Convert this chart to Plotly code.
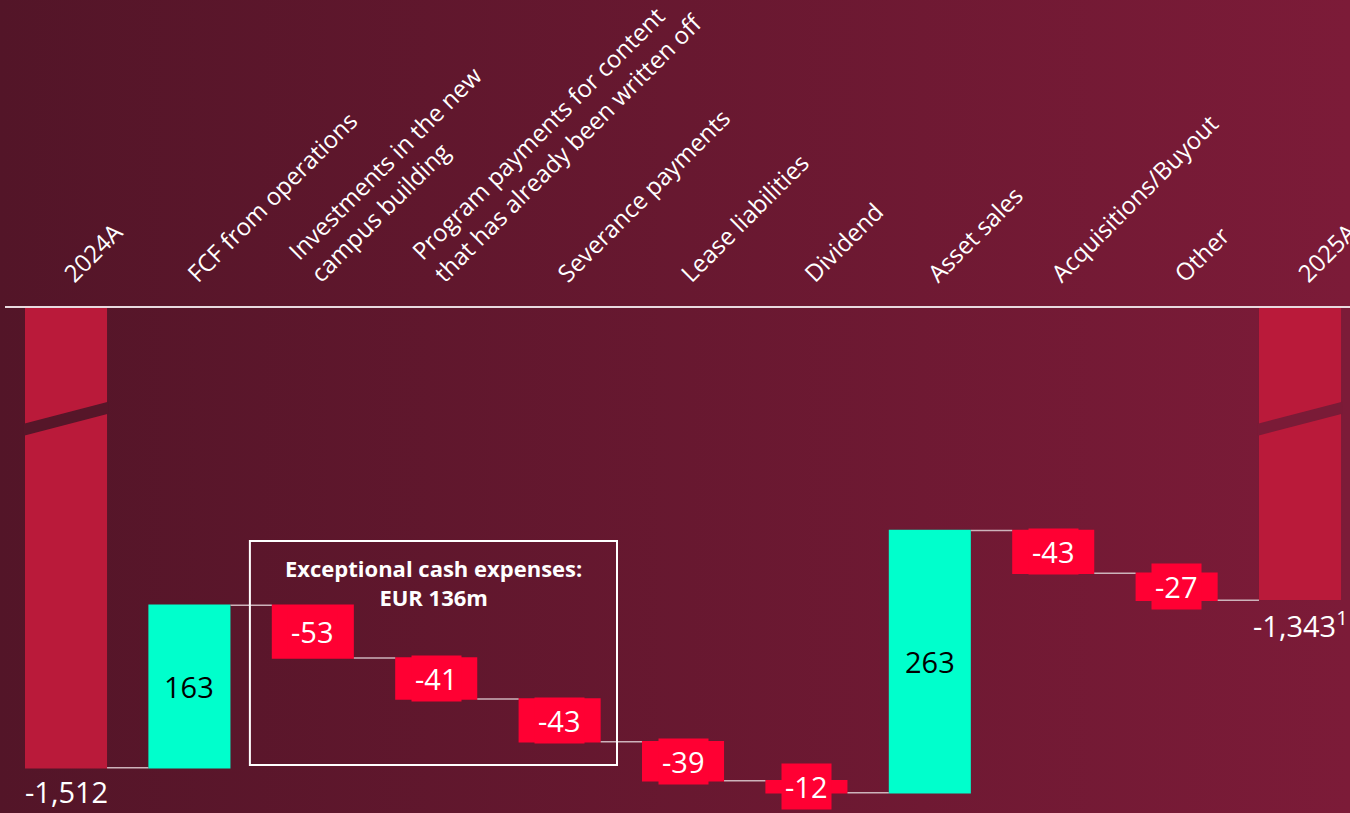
import base64
import plotly.graph_objects as go

# Net debt bridge, EUR m
categories = [
    "2024A",
    "FCF from operations",
    "Investments in the new<br>campus building",
    "Program payments for content<br>that has already been written off",
    "Severance payments",
    "Lease liabilities",
    "Dividend",
    "Asset sales",
    "Acquisitions/Buyout",
    "Other",
    "2025A",
]
values = [-1512, 163, -53, -41, -43, -39, -12, 263, -43, -27, -1343]
measures = ["absolute"] + ["relative"] * 9 + ["absolute"]
value_labels = ["-1,512", "163", "-53", "-41", "-43", "-39", "-12", "263", "-43", "-27", "-1,343<sup>1</sup>"]
box_title = "<b>Exceptional cash expenses:<br>EUR 136m</b>"

FONT = "Open Sans"
BG_LEFT, BG_RIGHT = "#531528", "#7C1B38"
TOTAL_C, UP_C, DOWN_C = "#BA1A3A", "#00FFCC", "#FF0033"
BAR_W = 0.665

W, H = 1350, 813
TOP_MARGIN = 307
Y_RANGE = [-1557.4, -1050]
X_RANGE = [-0.535, 10.405]

fig = go.Figure()
fig.add_trace(go.Waterfall(
    x=list(range(len(categories))),
    y=values,
    measure=measures,
    width=BAR_W,
    increasing=dict(marker=dict(color=UP_C)),
    decreasing=dict(marker=dict(color=DOWN_C)),
    totals=dict(marker=dict(color=TOTAL_C)),
    connector=dict(mode="between", line=dict(color="#CDB3BB", width=1.5)),
    hoverinfo="skip",
    showlegend=False,
))

# running level after each step (absolute steps reset the level)
levels = []
run = 0
for v, m in zip(values, measures):
    run = v if m == "absolute" else run + v
    levels.append(run)

annotations = []
for i, (v, m, lab) in enumerate(zip(values, measures, value_labels)):
    if m == "absolute":
        annotations.append(dict(x=i, y=v, text=lab, showarrow=False, yanchor="top", yshift=-2,
                                font=dict(family=FONT, size=29, color="white")))
    else:
        mid = levels[i] - v / 2
        if v > 0:
            annotations.append(dict(x=i, y=mid, text=lab, showarrow=False,
                                    font=dict(family=FONT, size=29, color="black")))
        else:
            annotations.append(dict(x=i, y=mid, text=lab, showarrow=False, bgcolor=DOWN_C, borderpad=3,
                                    font=dict(family=FONT, size=29, color="white")))

# frame around the exceptional items
bx0, bx1 = 1.49, 4.465
by0, by1 = -1509.3, -1284.6
annotations.append(dict(x=(bx0 + bx1) / 2, y=-1326.7, text=box_title, showarrow=False,
                        font=dict(family=FONT, size=22, color="white")))

shapes = [
    dict(type="rect", xref="x", yref="y", x0=bx0, x1=bx1, y0=by0, y1=by1,
         line=dict(color="white", width=2)),
    dict(type="line", xref="paper", yref="paper", x0=5 / W, x1=1, y0=1, y1=1,
         line=dict(color="#E8DADF", width=2)),
]
# axis-break bands across the two total bars
for i, col in [(0, "#561629"), (10, "#7A1B37")]:
    xl, xr = i - BAR_W / 2 - 0.01, i + BAR_W / 2 + 0.01
    shapes.append(dict(type="path", xref="x", yref="y", layer="above",
                       path=f"M {xl},-1167 L {xr},-1145 L {xr},-1157 L {xl},-1179 Z",
                       fillcolor=col, line=dict(width=0)))

svg = (f'<svg xmlns="http://www.w3.org/2000/svg" width="{W}" height="{H}" preserveAspectRatio="none">'
       f'<defs><linearGradient id="g" x1="0" y1="0" x2="1" y2="0">'
       f'<stop offset="0" stop-color="{BG_LEFT}"/><stop offset="1" stop-color="{BG_RIGHT}"/>'
       f'</linearGradient></defs><rect width="{W}" height="{H}" fill="url(#g)"/></svg>')
bg_src = "data:image/svg+xml;base64," + base64.b64encode(svg.encode()).decode()
top_paper = 1 + TOP_MARGIN / (H - TOP_MARGIN)

fig.update_layout(
    width=W, height=H,
    margin=dict(l=0, r=0, t=TOP_MARGIN, b=0, autoexpand=False),
    paper_bgcolor=BG_LEFT,
    plot_bgcolor="rgba(0,0,0,0)",
    images=[dict(source=bg_src, xref="paper", yref="paper", x=0, y=top_paper,
                 sizex=1, sizey=top_paper, xanchor="left", yanchor="top",
                 sizing="stretch", layer="below")],
    xaxis=dict(side="top", range=X_RANGE, tickmode="array",
               tickvals=list(range(len(categories))), ticktext=categories,
               tickangle=-45, ticks="", showgrid=False, zeroline=False, showline=False,
               automargin=False, ticklabelstandoff=14, ticklabeloverflow="allow",
               tickfont=dict(family=FONT, size=24, color="white")),
    yaxis=dict(range=Y_RANGE, visible=False),
    shapes=shapes,
    annotations=annotations,
)

fig.write_html("out.html")
